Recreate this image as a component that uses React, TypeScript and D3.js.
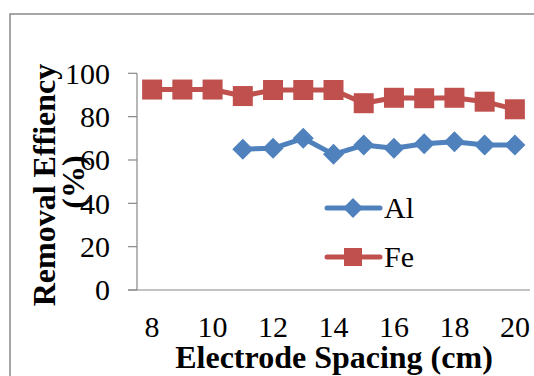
import React from "react";
import * as d3 from "d3";

const spacing = [8, 9, 10, 11, 12, 13, 14, 15, 16, 17, 18, 19, 20];
const alValues: (number | null)[] = [null, null, null, 65.0, 65.4, 70.0, 62.6, 66.9, 65.4, 67.5, 68.4, 66.9, 66.9];
const feValues: (number | null)[] = [92.5, 92.5, 92.5, 89.5, 92.3, 92.3, 92.3, 86.2, 88.7, 88.5, 88.7, 86.9, 83.4];
const yTicks = [0, 20, 40, 60, 80, 100];
const xTickLabels = [8, 10, 12, 14, 16, 18, 20];

const W = 534;
const H = 376;
const plot = { left: 137, right: 530, top: 73.3, bottom: 290 };
const serif = { fontFamily: "Liberation Serif" };
const AL = "#4F81BD";
const FE = "#C0504D";
const AXIS = "#888";

export default function App() {
  const x = d3
    .scalePoint<number>()
    .domain(spacing)
    .range([plot.left, plot.right])
    .padding(0.5);
  const y = d3.scaleLinear().domain([0, 100]).range([plot.bottom, plot.top]);

  const line = d3
    .line<[number, number | null]>()
    .defined((d) => d[1] !== null)
    .x((d) => x(d[0])!)
    .y((d) => y(d[1] as number));

  const alPts = spacing.map((s, i) => [s, alValues[i]] as [number, number | null]);
  const fePts = spacing.map((s, i) => [s, feValues[i]] as [number, number | null]);

  const diamond = (cx: number, cy: number, r: number) =>
    `M${cx},${cy - r}L${cx + r},${cy}L${cx},${cy + r}L${cx - r},${cy}Z`;
  const sq = 20;

  return (
    <svg
      width={W}
      height={H}
      style={{ position: "absolute", left: 0, top: 0, background: "#fff" }}
    >
      <rect x={10} y={14} width={W} height={H} fill="#fff" stroke={AXIS} strokeWidth={1.5} />

      {/* axes */}
      <line x1={plot.left} x2={plot.left} y1={plot.top} y2={plot.bottom} stroke={AXIS} strokeWidth={1.2} />
      <line x1={plot.left - 9} x2={plot.right} y1={plot.bottom} y2={plot.bottom} stroke={AXIS} strokeWidth={1.2} />
      {yTicks.map((t) => (
        <g key={t}>
          <line x1={plot.left - 9} x2={plot.left} y1={y(t)} y2={y(t)} stroke={AXIS} strokeWidth={1.2} />
          <text
            x={110}
            y={y(t)}
            dy="0.34em"
            textAnchor="end"
            style={serif}
            fontSize={30}
            fill="#000"
          >
            {t}
          </text>
        </g>
      ))}
      {xTickLabels.map((t) => (
        <text
          key={t}
          x={x(t)}
          y={337}
          textAnchor="middle"
          style={serif}
          fontSize={30}
          fill="#000"
        >
          {t}
        </text>
      ))}

      {/* series */}
      <path d={line(fePts)!} fill="none" stroke={FE} strokeWidth={5} strokeLinejoin="round" />
      {fePts
        .filter((d) => d[1] !== null)
        .map((d) => (
          <rect
            key={d[0]}
            x={x(d[0])! - sq / 2}
            y={y(d[1] as number) - sq / 2}
            width={sq}
            height={sq}
            fill={FE}
          />
        ))}
      <path d={line(alPts)!} fill="none" stroke={AL} strokeWidth={5} strokeLinejoin="round" />
      {alPts
        .filter((d) => d[1] !== null)
        .map((d) => (
          <path key={d[0]} d={diamond(x(d[0])!, y(d[1] as number), 10.5)} fill={AL} />
        ))}

      {/* legend */}
      <line x1={327} x2={380} y1={208} y2={208} stroke={AL} strokeWidth={5} strokeLinecap="round" />
      <path d={diamond(353, 208, 10)} fill={AL} />
      <text x={384} y={218} style={serif} fontSize={30} fill="#000">
        Al
      </text>
      <line x1={327} x2={380} y1={257} y2={257} stroke={FE} strokeWidth={5} strokeLinecap="round" />
      <rect x={353 - 9} y={257 - 9} width={18} height={18} fill={FE} />
      <text x={384} y={267} style={serif} fontSize={30} fill="#000">
        Fe
      </text>

      {/* axis titles */}
      <text
        x={334}
        y={368}
        textAnchor="middle"
        style={serif}
        fontSize={32}
        fontWeight="bold"
        fill="#000"
      >
        Electrode Spacing (cm)
      </text>
      <text
        transform="translate(55,185) rotate(-90)"
        textAnchor="middle"
        style={serif}
        fontSize={32}
        fontWeight="bold"
        fill="#000"
      >
        Removal Effiency
      </text>
      <text
        transform="translate(84,182) rotate(-90)"
        textAnchor="middle"
        style={serif}
        fontSize={32}
        fontWeight="bold"
        fill="#000"
      >
        (%)
      </text>
    </svg>
  );
}
